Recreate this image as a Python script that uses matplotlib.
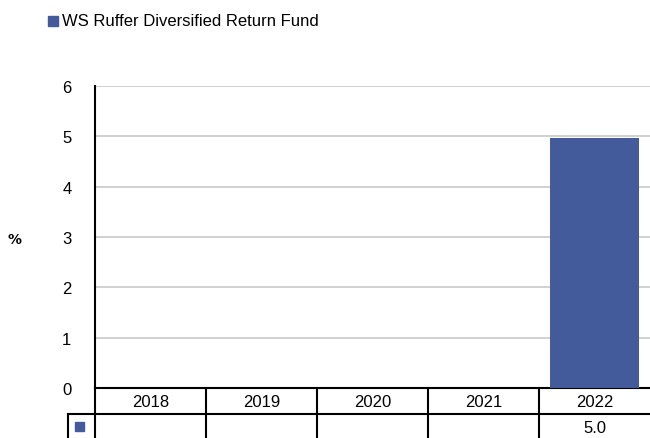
import matplotlib
matplotlib.use("Agg")
import matplotlib.pyplot as plt
from matplotlib.lines import Line2D
from matplotlib.patches import Rectangle

years = ["2018", "2019", "2020", "2021", "2022"]
values = [None, None, None, None, 4.96]
series_name = "WS Ruffer Diversified Return Fund"
y_ticks = [0, 1, 2, 3, 4, 5, 6]

BAR_COLOR = "#435a9b"
FONT = "Liberation Sans"
FS = 12

W, H = 650, 439
fig = plt.figure(figsize=(6.5, 4.39), dpi=100)

# axes in pixel geometry
left, right, top, bottom = 95, 650, 87, 389
ax = fig.add_axes([left / W, 1 - bottom / H, (right - left) / W, (bottom - top) / H])

xs = list(range(len(years)))
for x, v in zip(xs, values):
    if v is not None:
        ax.bar(x, v, width=0.8, color=BAR_COLOR, zorder=3)

ax.set_xlim(-0.5, len(years) - 0.5)
ax.set_ylim(0, 6)
ax.set_yticks(y_ticks)
ax.set_yticklabels([str(t) for t in y_ticks], fontsize=FS, family=FONT)
ax.tick_params(axis="y", length=0, pad=17)
ax.set_xticks([])
ax.grid(axis="y", color="#c8c8c8", linewidth=1.2, zorder=0)
for s in ["top", "right"]:
    ax.spines[s].set_visible(False)
ax.spines["left"].set_linewidth(1.5)
ax.spines["bottom"].set_linewidth(1.5)

# % label
fig.text(15 / W, 1 - 240 / H, "%", fontsize=10, fontweight="bold", ha="center", va="center", family="DejaVu Sans")

# table under the plot (in pixel coords via fig transform)
def px(x, y):
    return x / W, 1 - y / H

col_w = (right - left) / len(years)
row1_top, row1_bot, row2_bot = 389, 415, 440
lw = 1.5
tr = fig.transFigure

def line(x0, y0, x1, y1):
    a, b = px(x0, y0)
    c, d = px(x1, y1)
    fig.add_artist(Line2D([a, c], [b, d], transform=tr, color="black", linewidth=lw))

line(left, row1_top, left, row2_bot)
line(68, row1_bot, right, row1_bot)
line(68, row1_bot, 68, row2_bot)
for i in range(1, len(years)):
    xb = left + i * col_w
    line(xb, row1_top, xb, row2_bot)

for i, (yr, v) in enumerate(zip(years, values)):
    xc = left + (i + 0.5) * col_w
    fig.text(*px(xc, (row1_top + row1_bot) / 2 + 1), yr, fontsize=FS, ha="center", va="center", family=FONT)
    if v is not None:
        fig.text(*px(xc, (row1_bot + row2_bot) / 2 + 1), f"{v:.1f}", fontsize=FS, ha="center", va="center", family=FONT)

# series marker in table
fig.add_artist(Rectangle(px(75, 432), 9 / W, 9 / H, transform=tr, color=BAR_COLOR))

# legend at top
fig.add_artist(Rectangle(px(48, 27), 10 / W, 10 / H, transform=tr, color=BAR_COLOR))
fig.text(*px(62, 22), series_name, fontsize=FS, ha="left", va="center", family=FONT)

fig.savefig("out.png", dpi=100)
